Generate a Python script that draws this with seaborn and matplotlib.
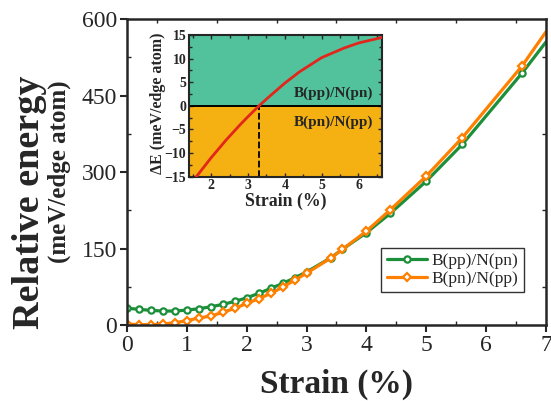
import numpy as np
import pandas as pd
import matplotlib
matplotlib.use("Agg")
import matplotlib.pyplot as plt
import seaborn as sns
from matplotlib.ticker import MultipleLocator

# ====================================
# Data
# ====================================
strain = [0.0, 0.2, 0.4, 0.6, 0.8, 1.0, 1.2, 1.4, 1.6, 1.8, 2.0, 2.2, 2.4, 2.6,
          2.8, 3.0, 3.4, 3.6, 4.0, 4.4, 5.0, 5.6, 6.6, 7.0]
e_pp_pn = [33, 30.7, 28.7, 27.4, 27.4, 29.3, 31.9, 35.8, 40.4, 46.3, 53.3, 62,
           71.7, 81.5, 92.4, 104, 131.5, 148.5, 181, 219, 282, 354, 494, 555]
e_pn_pp = [2, 0.6, 0.6, 2, 4.6, 8.5, 13.7, 17.6, 24.8, 32.6, 42.4, 51.4,
           62, 74, 88, 101.6, 131, 148.5, 184, 226, 292, 367, 508, 575]

inset_strain = [1.6, 2.0, 2.4, 2.8, 3.0, 3.3, 3.6, 4.0, 4.4, 5.0, 5.6, 6.0, 6.6, 6.65]
inset_de = [-15, -11.0, -7.3, -3.9, -2.3, 0, 2.1, 4.8, 7.2, 10.2, 12.2, 13.3, 14.4, 14.5]
crossing = 3.3

label_a = "B(pp)/N(pn)"
label_b = "B(pn)/N(pp)"

df = pd.DataFrame({"strain": strain, label_a: e_pp_pn, label_b: e_pn_pp})
di = pd.DataFrame({"strain": inset_strain, "dE": inset_de})

# ====================================
# Style
# ====================================
sns.set_style("ticks")
plt.rcParams['font.family'] = ['Liberation Serif', 'DejaVu Serif']

green = "#1b8f3a"
orange = "#ff8000"
mark_idx = list(range(len(strain) - 1))

fig = plt.figure(figsize=(5.51, 4.01), dpi=100)
ax = fig.add_axes([0.2305, 0.1895, 0.7604, 0.763])

sns.lineplot(data=df, x="strain", y=label_a, ax=ax, color=green, lw=2.3,
             marker="o", markersize=4.5, markerfacecolor="white",
             markeredgecolor=green, markeredgewidth=1.6, markevery=mark_idx,
             label=label_a)
sns.lineplot(data=df, x="strain", y=label_b, ax=ax, color=orange, lw=2.3,
             marker="D", markersize=4, markerfacecolor="white",
             markeredgecolor=orange, markeredgewidth=1.6, markevery=mark_idx,
             label=label_b)

ax.set_xlim(0, 7)
ax.set_ylim(0, 600)
ax.xaxis.set_major_locator(MultipleLocator(1))
ax.xaxis.set_minor_locator(MultipleLocator(0.5))
ax.yaxis.set_major_locator(MultipleLocator(150))
ax.yaxis.set_minor_locator(MultipleLocator(75))
ax.tick_params(which="major", direction="out", length=5, width=1.5,
               labelsize=17, pad=2)
ax.tick_params(which="minor", direction="in", length=3, width=1,
               top=True, right=True)
ax.tick_params(which="major", right=False, top=False)
for s in ax.spines.values():
    s.set_linewidth(1.8)
    s.set_visible(True)
ax.set_xlabel("")
ax.set_ylabel("")

leg = ax.legend(loc="center", bbox_to_anchor=(0.777, 0.18), fontsize=12.5,
                frameon=True, fancybox=False, edgecolor="black",
                handlelength=2.3, handletextpad=0.3, borderpad=0.3,
                labelspacing=0.1, borderaxespad=0)
leg.get_frame().set_linewidth(1.0)

fig.text(0.61, 0.042, "Strain (%)", ha="center", va="center",
         fontsize=24, fontweight="bold")
fig.text(0.053, 0.495, "Relative energy", ha="center", va="center",
         rotation=90, fontsize=27.5, fontweight="bold")
fig.text(0.107, 0.571, "(meV/edge atom)", ha="center", va="center",
         rotation=90, fontsize=18, fontweight="bold")

# ====================================
# Inset
# ====================================
ins = fig.add_axes([0.343, 0.5594, 0.3497, 0.3534])
ins.set_xlim(1.4, 6.63)
ins.set_ylim(-15, 15)
ins.axhspan(0, 15, color="#52c29d", zorder=0)
ins.axhspan(-15, 0, color="#f5b012", zorder=0)
ins.axhline(0, color="black", lw=1.4, zorder=1)
ins.plot([crossing, crossing], [-15, 0], color="black", ls="--", lw=1.3, zorder=1)
sns.lineplot(data=di, x="strain", y="dE", ax=ins, color="#e3261c", lw=2,
             zorder=3)
ins.text(6.39, 2.7, label_a, ha="right", va="center", fontsize=11,
         fontweight="bold")
ins.text(6.39, -3.5, label_b, ha="right", va="center", fontsize=11,
         fontweight="bold")
ins.xaxis.set_major_locator(MultipleLocator(1))
ins.xaxis.set_minor_locator(MultipleLocator(0.5))
ins.yaxis.set_major_locator(MultipleLocator(5))
ins.yaxis.set_minor_locator(MultipleLocator(2.5))
ins.tick_params(which="both", direction="in", top=True, right=True,
                width=1, labelsize=10, pad=2)
ins.tick_params(which="major", length=3)
ins.tick_params(which="minor", length=2)
for lbl in ins.get_xticklabels() + ins.get_yticklabels():
    lbl.set_fontweight("bold")
for s in ins.spines.values():
    s.set_linewidth(1.5)
ins.set_xlabel("Strain (%)", fontsize=12.8, fontweight="bold", labelpad=0)
ins.set_ylabel("")
fig.text(0.287, 0.743, "ΔE (meV/edge atom)", ha="center", va="center",
         rotation=90, fontsize=11.5, fontweight="bold")

fig.savefig("out.png", dpi=100)
